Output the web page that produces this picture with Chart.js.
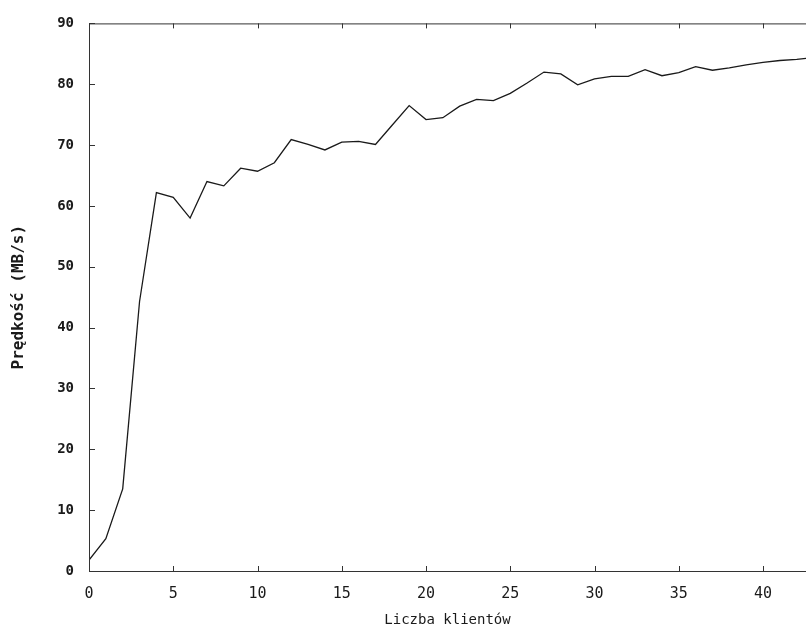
<!DOCTYPE html>
<html>
<head>
<meta charset="utf-8">
<script src="https://cdn.jsdelivr.net/npm/chart.js@4"></script>
<style>
  body { margin: 0; background: #fff; }
  #wrap { width: 806px; height: 630px; }
</style>
</head>
<body>
<div id="wrap"><canvas id="speed-chart" width="806" height="630"></canvas></div>
<script>
// Liczba klientów vs. prędkość
const clients = [0, 1, 2, 3, 4, 5, 6, 7, 8, 9, 10, 11, 12, 13, 14, 15, 16, 17, 18, 19, 20, 21,
    22, 23, 24, 25, 26, 27, 28, 29, 30, 31, 32, 33, 34, 35, 36, 37, 38, 39, 40, 41, 42, 43];
const speed = [1.8, 5.3, 13.5, 44.3, 62.2, 61.4, 58.0, 64.0, 63.3, 66.2, 65.7, 67.1, 70.9, 70.1,
    69.2, 70.5, 70.6, 70.1, 73.3, 76.5, 74.2, 74.5, 76.4, 77.5, 77.3, 78.5, 80.2, 82.0, 81.7, 79.9,
    80.9, 81.3, 81.3, 82.4, 81.4, 81.9, 82.9, 82.3, 82.7, 83.2, 83.6, 83.9, 84.1, 84.4];
const xTitle = 'Liczba klientów';
const yTitle = 'Prędkość (MB/s)';

const tickFont = { family: 'DejaVu Sans Mono', size: 14 };
const ink = '#1a1a1a';

// gnuplot-style frame with inward ticks
const frame = {
    id: 'frame',
    afterDatasetsDraw(chart) {
        const { ctx, chartArea: a, scales: { x, y } } = chart;
        const len = 5;
        ctx.save();
        ctx.strokeStyle = '#333';
        ctx.lineWidth = 1;
        ctx.strokeRect(a.left + 0.5, a.top + 0.5, a.right - a.left, a.bottom - a.top);
        ctx.beginPath();
        x.ticks.forEach(t => {
            const px = Math.round(x.getPixelForValue(t.value)) + 0.5;
            ctx.moveTo(px, a.bottom); ctx.lineTo(px, a.bottom - len);
            ctx.moveTo(px, a.top); ctx.lineTo(px, a.top + len);
        });
        y.ticks.forEach(t => {
            const py = Math.round(y.getPixelForValue(t.value)) + 0.5;
            ctx.moveTo(a.left, py); ctx.lineTo(a.left + len + 1, py);
        });
        ctx.stroke();
        ctx.restore();
    }
};

new Chart(document.getElementById('speed-chart'), {
    type: 'line',
    data: {
        datasets: [{
            data: clients.map((c, i) => ({ x: c, y: speed[i] })),
            borderColor: ink,
            borderWidth: 1.3,
            pointRadius: 0,
            tension: 0,
            fill: false
        }]
    },
    options: {
        responsive: false,
        animation: false,
        layout: { padding: { top: 20, right: 0, left: 0, bottom: 0 } },
        plugins: { legend: { display: false }, tooltip: { enabled: false } },
        scales: {
            x: {
                type: 'linear',
                min: 0,
                max: 42.55,
                grid: { display: false, drawTicks: false },
                border: { display: false },
                ticks: { stepSize: 5, includeBounds: false, color: ink, font: { ...tickFont, size: 15 }, padding: 14, maxRotation: 0 },
                title: { display: true, text: xTitle, color: ink, font: tickFont, padding: { top: 0, bottom: 1 } },
                afterFit: s => { s.height = 59; }
            },
            y: {
                min: 0,
                max: 90,
                grid: { display: false, drawTicks: false },
                border: { display: false },
                ticks: { stepSize: 10, color: ink, font: { ...tickFont, weight: 'bold' }, padding: 15 },
                title: { display: true, text: yTitle, color: ink, font: { ...tickFont, size: 16, weight: 'bold' }, padding: { top: 9, bottom: 0 } },
                afterFit: s => { s.width = 89; }
            }
        }
    },
    plugins: [frame]
});
</script>
</body>
</html>
